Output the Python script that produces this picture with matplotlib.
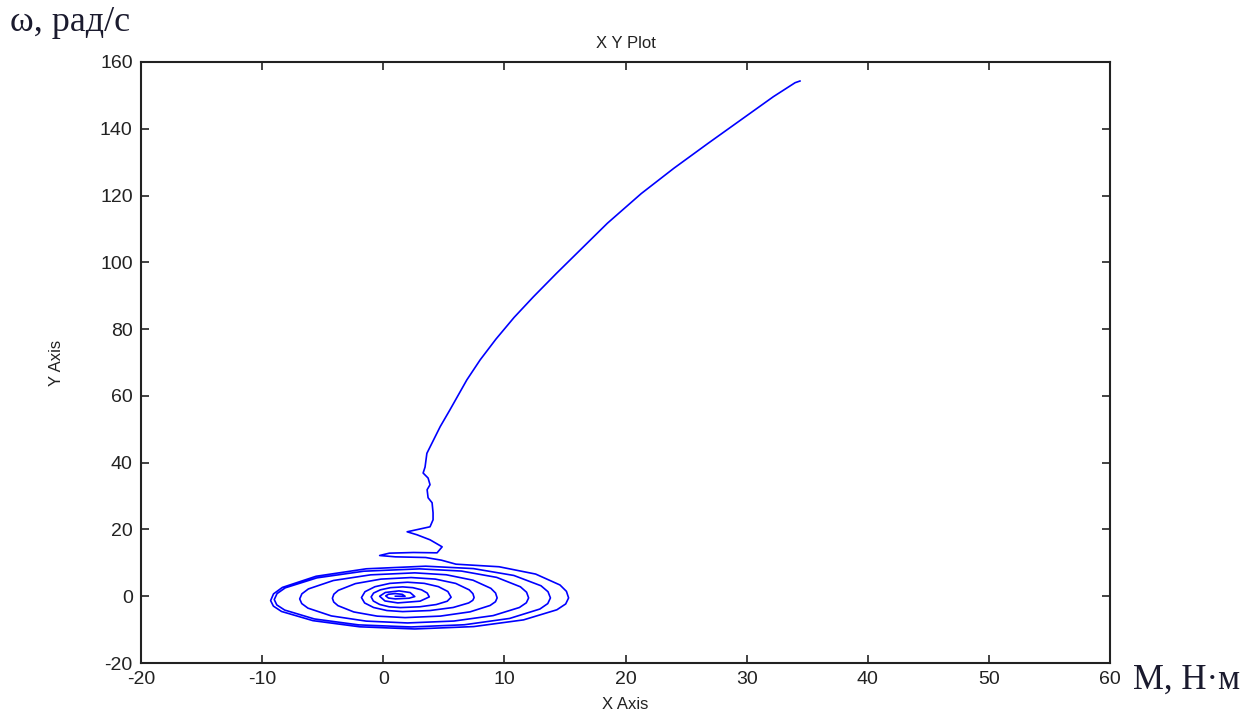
import numpy as np
import matplotlib.pyplot as plt

plt.rcParams['axes.unicode_minus'] = False

# spiral part: torque M vs speed w (centre outwards)
m_spiral = [1.0, 1.8, 1.57, 1.0, 0.43, 0.2, 0.43, 1.0, 2.13,
            2.6, 2.22, 1.3, 0.17, -0.3, 0.14, 1.2, 3.04,
            3.8, 3.63, 3.16, 2.44, 1.6, 0.60, -0.24, -0.80, -1.0, -0.82, -0.30, 0.48, 1.4, 3.01, 4.37, 5.28,
            5.6, 5.33, 4.55, 3.38, 2.0, 0.54, -0.69, -1.51, -1.8, -1.54, -0.80, 0.30, 1.6, 3.86, 5.77, 7.05,
            7.39, 7.5, 7.40, 7.10, 5.98, 4.29, 2.3, -0.19, -2.30, -3.71, -4.08, -4.2, -4.09, -3.74, -2.44, -0.50,
            1.8, 4.71, 7.17, 8.82,
            9.26, 9.4, 9.27, 8.88, 7.41, 5.20, 2.6, -1.04, -4.12, -6.18, -6.72, -6.9, -6.73, -6.22, -4.29, -1.41,
            2.0, 5.83, 9.07, 11.24,
            11.81, 12.0, 11.83, 11.32, 9.36, 6.45, 3.0, -1.60, -5.48, -8.09, -8.77, -9.0, -8.79, -8.14, -5.69, -2.03,
            2.3, 6.70, 10.43, 12.93,
            13.58, 13.8, 13.60, 13.02, 10.78, 7.44, 3.5, -1.40, -5.55, -8.33, -9.06, -9.3, -9.07, -8.40, -5.81, -1.96,
            2.6, 7.46, 11.58, 14.33,
            15.06, 15.3, 15.12, 14.59, 12.58, 9.56, 6.0, 4.8, 3.5, 1.0, -0.3, 0.5, 2.5]
w_spiral = [0.0, 0.0, 0.57, 0.8, 0.59, 0.1, -0.54, -0.8, -0.59,
            -0.1, 1.10, 1.6, 1.13, 0.0, -1.41, -2.0, -1.47,
            -0.2, 0.95, 1.92, 2.57, 2.8, 2.57, 1.92, 0.95, -0.2, -1.43, -2.46, -3.16, -3.4, -3.16, -2.49, -1.49,
            -0.3, 1.42, 2.88, 3.86, 4.2, 3.85, 2.85, 1.36, -0.4, -2.01, -3.37, -4.28, -4.6, -4.28, -3.37, -2.01,
            -1.22, -0.4, 0.77, 1.90, 3.84, 5.14, 5.6, 5.13, 3.78, 1.77, 0.61, -0.6, -1.73, -2.82, -4.70, -5.96,
            -6.4, -5.95, -4.67, -2.76,
            -1.65, -0.5, 0.96, 2.37, 4.80, 6.43, 7.0, 6.41, 4.71, 2.19, 0.72, -0.8, -2.20, -3.56, -5.89, -7.45,
            -8.0, -7.43, -5.80, -3.37,
            -1.96, -0.5, 1.20, 2.83, 5.65, 7.54, 8.2, 7.50, 5.50, 2.52, 0.79, -1.0, -2.60, -4.14, -6.80, -8.58,
            -9.2, -8.54, -6.65, -3.83,
            -2.20, -0.5, 1.35, 3.14, 6.22, 8.28, 9.0, 8.22, 5.98, 2.64, 0.71, -1.3, -2.96, -4.56, -7.31, -9.15,
            -9.8, -9.09, -7.08, -4.06,
            -2.31, -0.5, 1.47, 3.37, 6.64, 8.83, 9.6, 10.8, 11.6, 11.8, 12.2, 12.9, 13.1]

# rising part
m_rise = [4.44, 4.86, 3.86, 2.79, 1.97, 3.86, 4.11, 4.11, 4.03, 3.70, 3.62,
          3.86, 3.70, 3.29, 3.45, 3.6, 4.7, 5.5, 6.9, 8.0, 9.3, 10.8,
          12.4, 14.3, 15.7, 18.5, 21.3, 24.0, 26.8, 29.5, 32.2, 34.0, 34.4]
w_rise = [13.0, 14.8, 16.9, 18.4, 19.3, 20.8, 22.9, 25.0, 28.0, 29.5, 31.9,
          33.4, 35.4, 36.9, 38.7, 42.8, 50.8, 55.8, 64.8, 70.8, 77.0, 83.5,
          89.7, 96.7, 101.7, 111.7, 120.6, 128.2, 135.6, 142.6, 149.6, 153.8, 154.3]

m = m_spiral + m_rise
w = w_spiral + w_rise

xticks = [-20, -10, 0, 10, 20, 30, 40, 50, 60]
yticks = [-20, 0, 20, 40, 60, 80, 100, 120, 140, 160]

fig = plt.figure(figsize=(12.59, 7.15), dpi=100)
ax = fig.add_axes([0.112, 0.0727, 0.7697, 0.8406])
ax.plot(m, w, color='#0000ff', lw=1.2)

ax.set_xlim(-20, 60)
ax.set_ylim(-20, 160)
ax.set_xticks(xticks)
ax.set_yticks(yticks)
ax.tick_params(direction='in', length=6, width=1.2, top=True, right=True,
               labelsize=14, colors='#222222', pad=6)
for lbl in ax.get_xticklabels() + ax.get_yticklabels():
    lbl.set_family('Liberation Sans')
for s in ax.spines.values():
    s.set_linewidth(1.5)
    s.set_color('#222222')

ax.set_title('X Y Plot', fontsize=12, family='Liberation Sans', pad=10, color='#222222')
ax.set_xlabel('X Axis', fontsize=12, family='Liberation Sans', labelpad=6, color='#222222')
ax.set_ylabel('Y Axis', fontsize=12, family='Liberation Sans', labelpad=26, color='#222222')

fig.text(0.008, 0.969, 'ω, рад/с', fontsize=26, family='Liberation Serif',
         va='center', ha='left', color='#1a1a2e')
fig.text(0.900, 0.049, 'M, Н·м', fontsize=25, family='Liberation Serif',
         va='center', ha='left', color='#1a1a2e')

plt.savefig('out.png', dpi=100)
